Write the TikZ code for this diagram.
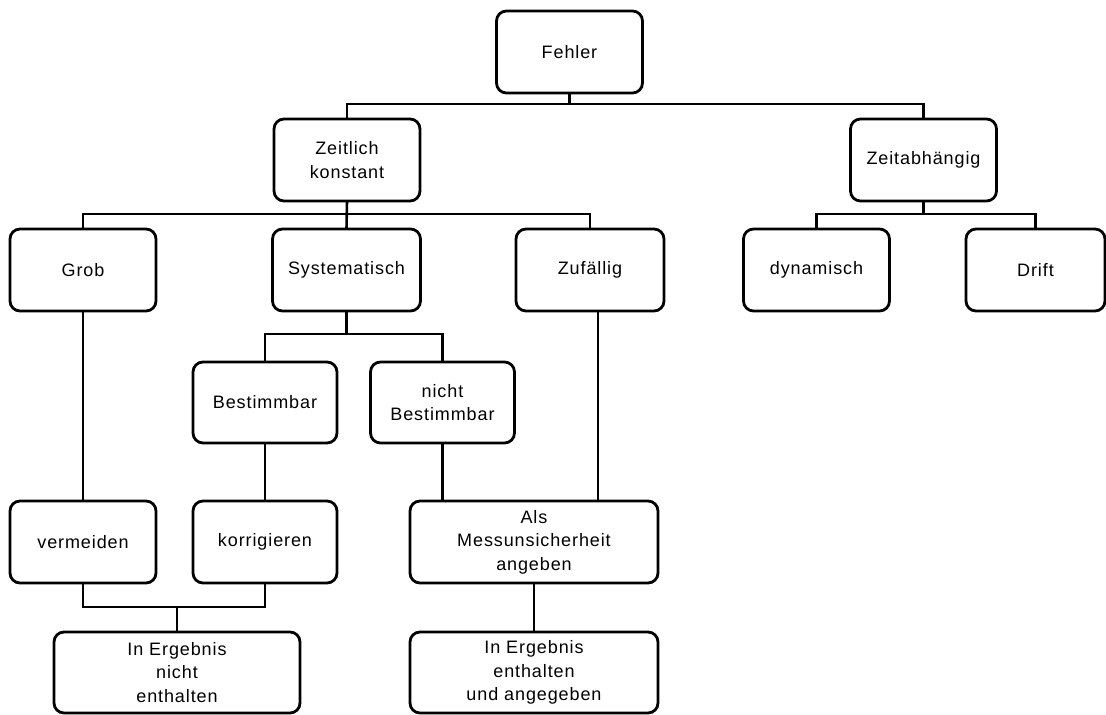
\documentclass[tikz,border=0pt]{standalone}
\usepackage{fontspec}
\setmainfont{Liberation Sans}[LetterSpace=5]
\usepackage{tikz}
\usetikzlibrary{calc}

\begin{document}
\begin{tikzpicture}[x=1pt, y=-1pt,
    box/.style={draw, rounded corners=10pt, line width=2.8pt, outer sep=0pt,
        minimum width=146pt, minimum height=82pt, align=center,
        font=\fontsize{18}{23.5}\selectfont},
    widebox/.style={box, minimum width=248pt},
    line/.style={line width=2.6pt}]
    \useasboundingbox (0,0) rectangle (1106,715);
    % Top level
    \node[box] (fehler) at (569.5,52) {Fehler};
    \node[box] (zk) at (347,160) {Zeitlich\\konstant};
    \node[box] (za) at (923.5,160) {Zeitabhängig};
    % Second level
    \node[box] (grob) at (83,270) {Grob};
    \node[box, minimum width=148pt] (sys) at (346.5,270) {Systematisch};
    \node[box, minimum width=148pt] (zuf) at (590,270) {Zufällig};
    \node[box] (dyn) at (816.5,270) {dynamisch};
    \node[box, minimum width=139pt] (drift) at (1035.5,270) {Drift};
    % Systematic errors
    \node[box, minimum width=144pt, minimum height=81pt] (best) at (265,402.5) {Bestimmbar};
    \node[box, minimum width=144pt, minimum height=81pt] (nbest) at (442.5,402.5) {nicht\\Bestimmbar};
    % Actions
    \node[box] (verm) at (83,542) {vermeiden};
    \node[box, minimum width=144pt] (korr) at (265,542) {korrigieren};
    \node[widebox] (mess) at (534,542) {Als\\Messunsicherheit\\angeben};
    % Result
    \node[widebox, minimum width=246pt, minimum height=81pt] (erg1) at (177,672.5) {In Ergebnis\\nicht\\enthalten};
    \node[widebox, minimum height=81pt] (erg2) at (534,672.5) {In Ergebnis\\enthalten\\und angegeben};
    % Connectors
    \draw[line] (fehler.south) -- ++(0,11) -| (zk.north);
    \draw[line] (fehler.south) -- ++(0,11) -| (za.north);
    \draw[line] (zk.south) -- ++(0,13) -| (grob.north);
    \draw[line] (zk.south) -- (sys.north);
    \draw[line] (zk.south) -- ++(0,13) -| (zuf.north);
    \draw[line] (za.south) -- ++(0,13) -| (dyn.north);
    \draw[line] (za.south) -- ++(0,13) -| (drift.north);
    \draw[line] (sys.south) -- ++(0,23) -| (best.north);
    \draw[line] (sys.south) -- ++(0,23) -| (nbest.north);
    \draw[line] (grob.south) -- (verm.north);
    \draw[line] (best.south) -- (korr.north);
    \draw[line] (nbest.south) -- (nbest.south |- mess.north);
    \draw[line] ([xshift=8pt]zuf.south) -- ([xshift=8pt]zuf.south |- mess.north);
    \draw[line] (verm.south) -- ++(0,24) -| (erg1.north);
    \draw[line] (korr.south) -- ++(0,24) -| (erg1.north);
    \draw[line] (mess.south) -- (erg2.north);
\end{tikzpicture}
\end{document}
